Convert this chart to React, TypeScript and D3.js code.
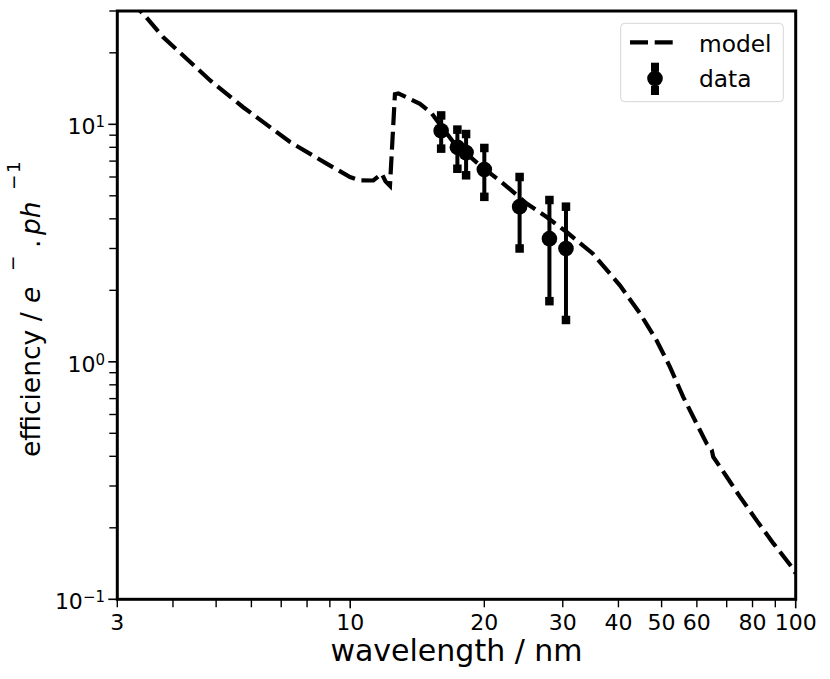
import React from "react";
import * as d3 from "d3";

const modelWavelength = [3.2, 3.49, 3.8, 4.85, 5.75, 7.33, 8.85, 9.99, 10.52, 11.27, 11.77, 12.0, 12.28, 12.6, 12.82, 14.34, 15.24, 17.03, 19.56, 22.06, 24.89, 27.6, 30.6, 35.0, 40.3, 44.7, 48.7, 52.2, 55.9, 59.9, 63.1, 64.8, 65.3, 70.0, 75.0, 81.7, 89.1, 97.9, 100];
const modelEfficiency = [33.5, 28.1, 23.3, 15.3, 11.8, 8.42, 6.83, 6.0, 5.81, 5.8, 6.2, 5.75, 5.5, 13.4, 13.5, 12.2, 11.1, 8.42, 6.72, 5.63, 4.64, 4.07, 3.52, 2.86, 2.1, 1.6, 1.233, 0.952, 0.712, 0.55, 0.453, 0.425, 0.398, 0.328, 0.27, 0.215, 0.172, 0.137, 0.1285];

const dataWavelength = [16, 17.4, 18.2, 20, 24, 28, 30.5];
const dataEfficiency = [9.4, 8.0, 7.6, 6.45, 4.5, 3.3, 3.0];
const dataError = [1.5, 1.5, 1.5, 1.5, 1.5, 1.5, 1.5];

const xMajorTicks = [10, 100];
const xMinorTicks = [3, 4, 5, 6, 7, 8, 9, 20, 30, 40, 50, 60, 70, 80, 90];
const xTickLabels = [3, 10, 20, 30, 40, 50, 60, 80, 100];
const yMajorTicks = [0.1, 1, 10];
const yMajorExponents = ["\u22121", "0", "1"];
const yMinorTicks = [0.2, 0.3, 0.4, 0.5, 0.6, 0.7, 0.8, 0.9, 2, 3, 4, 5, 6, 7, 8, 9, 20, 30];

const legendLabels = ["model", "data"];

const W = 830;
const H = 679;
const L = 117.3, R = 795.7, T = 11, B = 599.3;
const FONT = "DejaVu Sans";

export default function App() {
  const x = d3.scaleLog().domain([3, 100]).range([L, R]);
  const y = d3.scaleLog().domain([0.1, 30]).range([B, T]);
  const line = d3
    .line<number>()
    .x((_, i) => x(modelWavelength[i]))
    .y((d) => y(d));
  const path = line(modelEfficiency) || "";
  const dash = "18,6.7";
  const lw = 4.2;
  const cap = 8.5;

  const lgX = 620.7, lgY = 23.3, lgW = 162.6, lgH = 78.4;
  const yl = 26.5;
  const ys = 18.5;

  return (
    <svg
      width={W}
      height={H}
      style={{ position: "absolute", left: 0, top: 0, background: "#fff" }}
      fontFamily={FONT}
    >
      <defs>
        <clipPath id="plotClip">
          <rect x={L} y={T} width={R - L} height={B - T} />
        </clipPath>
      </defs>
      <rect x={0} y={0} width={W} height={H} fill="#fff" />

      {/* x ticks */}
      {xMajorTicks.map((t) => (
        <line key={"xM" + t} x1={x(t)} x2={x(t)} y1={B} y2={B + 9} stroke="#000" strokeWidth={1.6} />
      ))}
      {xMinorTicks.map((t) => (
        <line key={"xm" + t} x1={x(t)} x2={x(t)} y1={B} y2={B + 8} stroke="#000" strokeWidth={1.4} />
      ))}
      {xTickLabels.map((t) => (
        <text key={"xl" + t} x={x(t)} y={630} fontSize={22} textAnchor="middle" fill="#000">
          {t}
        </text>
      ))}

      {/* y ticks */}
      {yMajorTicks.map((t) => (
        <line key={"yM" + t} x1={L - 9} x2={L} y1={y(t)} y2={y(t)} stroke="#000" strokeWidth={1.6} />
      ))}
      {yMinorTicks.map((t) => (
        <line key={"ym" + t} x1={L - 8} x2={L} y1={y(t)} y2={y(t)} stroke="#000" strokeWidth={1.4} />
      ))}
      {yMajorTicks.map((t, i) => (
        <text key={"yl" + t} x={105} y={y(t) + 10} fontSize={22} textAnchor="end" fill="#000">
          10
          <tspan fontSize={15} dy={-7.3}>
            {yMajorExponents[i]}
          </tspan>
        </text>
      ))}

      {/* model line */}
      <g clipPath="url(#plotClip)">
        <path d={path} fill="none" stroke="#000" strokeWidth={lw} strokeDasharray={dash} />
      </g>

      {/* data with error bars */}
      {dataWavelength.map((w, i) => {
        const cx = x(w);
        const cy = y(dataEfficiency[i]);
        const yt = y(dataEfficiency[i] + dataError[i]);
        const yb = y(dataEfficiency[i] - dataError[i]);
        return (
          <g key={"d" + i}>
            <line x1={cx} x2={cx} y1={yt} y2={yb} stroke="#000" strokeWidth={4} />
            <rect x={cx - cap / 2} y={yt - cap / 2} width={cap} height={cap} fill="#000" />
            <rect x={cx - cap / 2} y={yb - cap / 2} width={cap} height={cap} fill="#000" />
            <circle cx={cx} cy={cy} r={7.8} fill="#000" />
          </g>
        );
      })}

      {/* spines */}
      <rect x={L} y={T} width={R - L} height={B - T} fill="none" stroke="#000" strokeWidth={3} />

      {/* axis labels */}
      <text x={(L + R) / 2} y={661} fontSize={30} textAnchor="middle" fill="#000">
        wavelength / nm
      </text>
      <g transform="translate(40,0) rotate(-90)" fill="#000">
        <text x={-457} y={0} fontSize={yl}>efficiency /</text>
        <text x={-303} y={0} fontSize={yl} fontStyle="italic">e</text>
        <text x={-271} y={-21} fontSize={ys}>{"\u2212"}</text>
        <text x={-248} y={0} fontSize={yl}>.</text>
        <text x={-235} y={0} fontSize={yl} fontStyle="italic">ph</text>
        <text x={-190} y={-20} fontSize={ys}>{"\u2212"}</text>
        <text x={-173} y={-20} fontSize={ys}>1</text>
      </g>

      {/* legend */}
      <rect x={lgX} y={lgY} width={lgW} height={lgH} rx={4} fill="#fff" fillOpacity={0.8} stroke="#d6d6d6" strokeWidth={1} />
      <line x1={630} x2={678.3} y1={42.3} y2={42.3} stroke="#000" strokeWidth={lw} strokeDasharray={dash} />
      <text x={699} y={51.7} fontSize={23.3} fill="#000">
        {legendLabels[0]}
      </text>
      <g>
        <line x1={655} x2={655} y1={67} y2={90.5} stroke="#000" strokeWidth={4} />
        <rect x={655 - 4} y={62.7} width={8} height={9} fill="#000" />
        <rect x={655 - 4} y={86} width={8} height={9} fill="#000" />
        <circle cx={655} cy={78.5} r={7.8} fill="#000" />
      </g>
      <text x={699} y={87.3} fontSize={23.3} fill="#000">
        {legendLabels[1]}
      </text>
    </svg>
  );
}
